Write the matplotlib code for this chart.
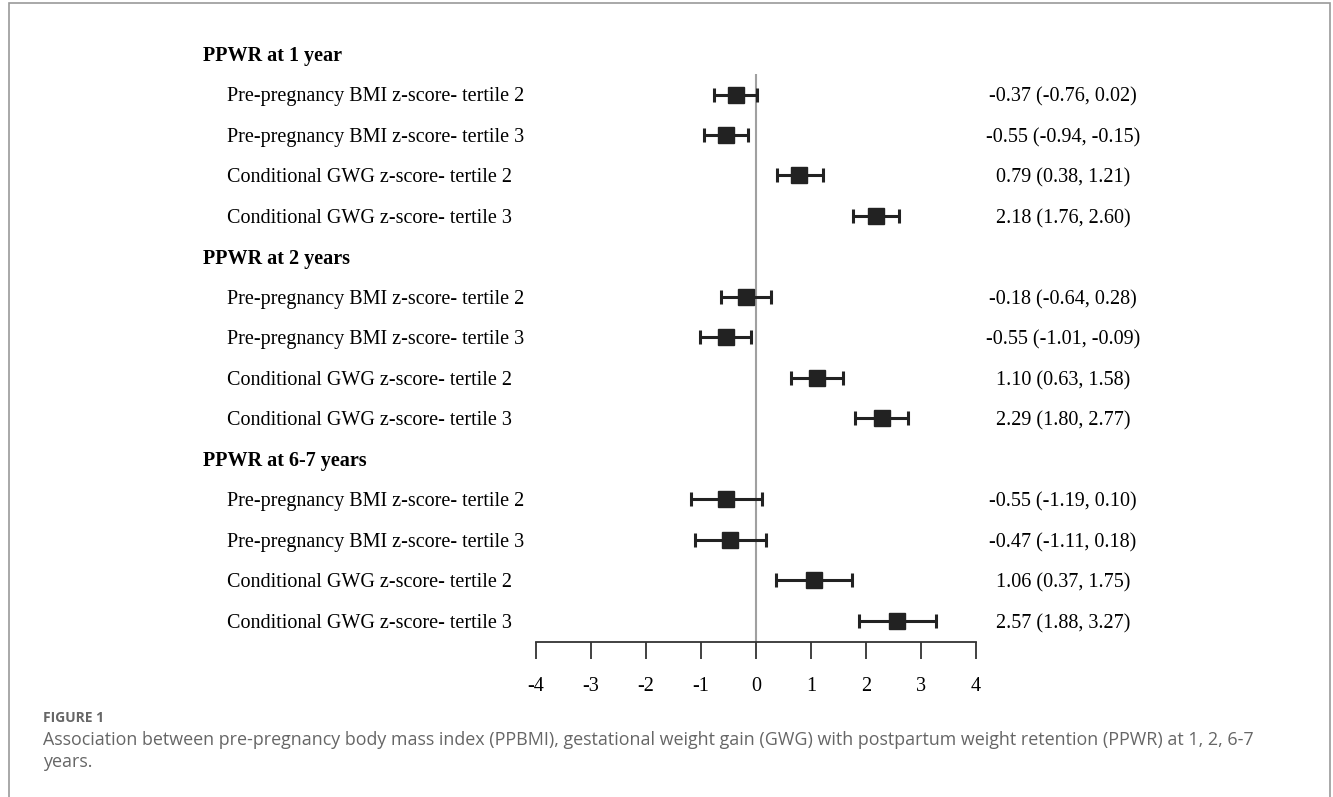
import matplotlib
matplotlib.use("Agg")
import matplotlib.pyplot as plt
import matplotlib.transforms as mtransforms
from matplotlib.patches import Rectangle

# ---- data ----
groups = ["PPWR at 1 year", "PPWR at 2 years", "PPWR at 6-7 years"]
exposures = ["Pre-pregnancy BMI z-score- tertile 2",
             "Pre-pregnancy BMI z-score- tertile 3",
             "Conditional GWG z-score- tertile 2",
             "Conditional GWG z-score- tertile 3"]
est_1y = [-0.37, -0.55, 0.79, 2.18]
lo_1y = [-0.76, -0.94, 0.38, 1.76]
hi_1y = [0.02, -0.15, 1.21, 2.60]
est_2y = [-0.18, -0.55, 1.10, 2.29]
lo_2y = [-0.64, -1.01, 0.63, 1.80]
hi_2y = [0.28, -0.09, 1.58, 2.77]
est_67y = [-0.55, -0.47, 1.06, 2.57]
lo_67y = [-1.19, -1.11, 0.37, 1.88]
hi_67y = [0.10, 0.18, 1.75, 3.27]
x_ticks = [-4, -3, -2, -1, 0, 1, 2, 3, 4]

W, H = 1333, 797
fig = plt.figure(figsize=(W / 100, H / 100), dpi=100)

# frame around the figure panel (open at the bottom)
fig.patches.append(Rectangle((9 / W, -0.01), (1330 - 9) / W, (H - 3) / H + 0.01,
                             transform=fig.transFigure, fill=False,
                             edgecolor="#9a9a9a", linewidth=1.2))

row_h = 40.5
y0_px = 54
ax_top_px, ax_bot_px = 74, 642
ax = fig.add_axes([536 / W, 1 - ax_bot_px / H, 440 / W, (ax_bot_px - ax_top_px) / H])
ax.set_xlim(-4, 4)
ax.set_ylim((ax_bot_px - y0_px) / row_h, (ax_top_px - y0_px) / row_h)

serif = ["Liberation Serif", "DejaVu Serif"]
fs = 14.5
trans = mtransforms.blended_transform_factory(fig.transFigure, ax.transData)

ax.axvline(0, color="#a0a0a0", linewidth=1.5, zorder=1)

all_est = [est_1y, est_2y, est_67y]
all_lo = [lo_1y, lo_2y, lo_67y]
all_hi = [hi_1y, hi_2y, hi_67y]
row = 0
for g, est, lo, hi in zip(groups, all_est, all_lo, all_hi):
    ax.text(203 / W, row, g, transform=trans, ha="left", va="center_baseline",
            fontsize=fs, fontweight="bold", family=serif, clip_on=False)
    row += 1
    for lab, e, l, h in zip(exposures, est, lo, hi):
        ax.errorbar([e], [row], xerr=[[e - l], [h - e]], fmt="s", color="#222222",
                    markersize=12, elinewidth=2.2, capsize=5, capthick=2.2, zorder=3)
        ax.text(227 / W, row, lab, transform=trans, ha="left", va="center_baseline",
                fontsize=fs, family=serif, clip_on=False)
        ax.text(1063 / W, row, f"{e:.2f} ({l:.2f}, {h:.2f})", transform=trans,
                ha="center", va="center_baseline", fontsize=fs, family=serif,
                clip_on=False)
        row += 1

for s in ["top", "right", "left"]:
    ax.spines[s].set_visible(False)
ax.spines["bottom"].set_color("#333333")
ax.spines["bottom"].set_linewidth(1.3)
ax.set_yticks([])
ax.set_xticks(x_ticks)
ax.set_xticklabels([str(t) for t in x_ticks], family=serif, fontsize=fs)
ax.tick_params(axis="x", direction="out", length=12, width=1.3, color="#333333", pad=13)

sans = ["Open Sans", "DejaVu Sans"]
fig.text(43 / W, 1 - 718 / H, "FIGURE 1", ha="left", va="center", fontsize=10,
         fontweight="bold", color="#666666", family=sans)
fig.text(43 / W, 1 - 740 / H,
         "Association between pre-pregnancy body mass index (PPBMI), gestational weight gain (GWG) "
         "with postpartum weight retention (PPWR) at 1, 2, 6-7",
         ha="left", va="center", fontsize=12.9, color="#666666", family=sans)
fig.text(43 / W, 1 - 762 / H, "years.", ha="left", va="center", fontsize=12.9,
         color="#666666", family=sans)

fig.savefig("out.png", dpi=100)
